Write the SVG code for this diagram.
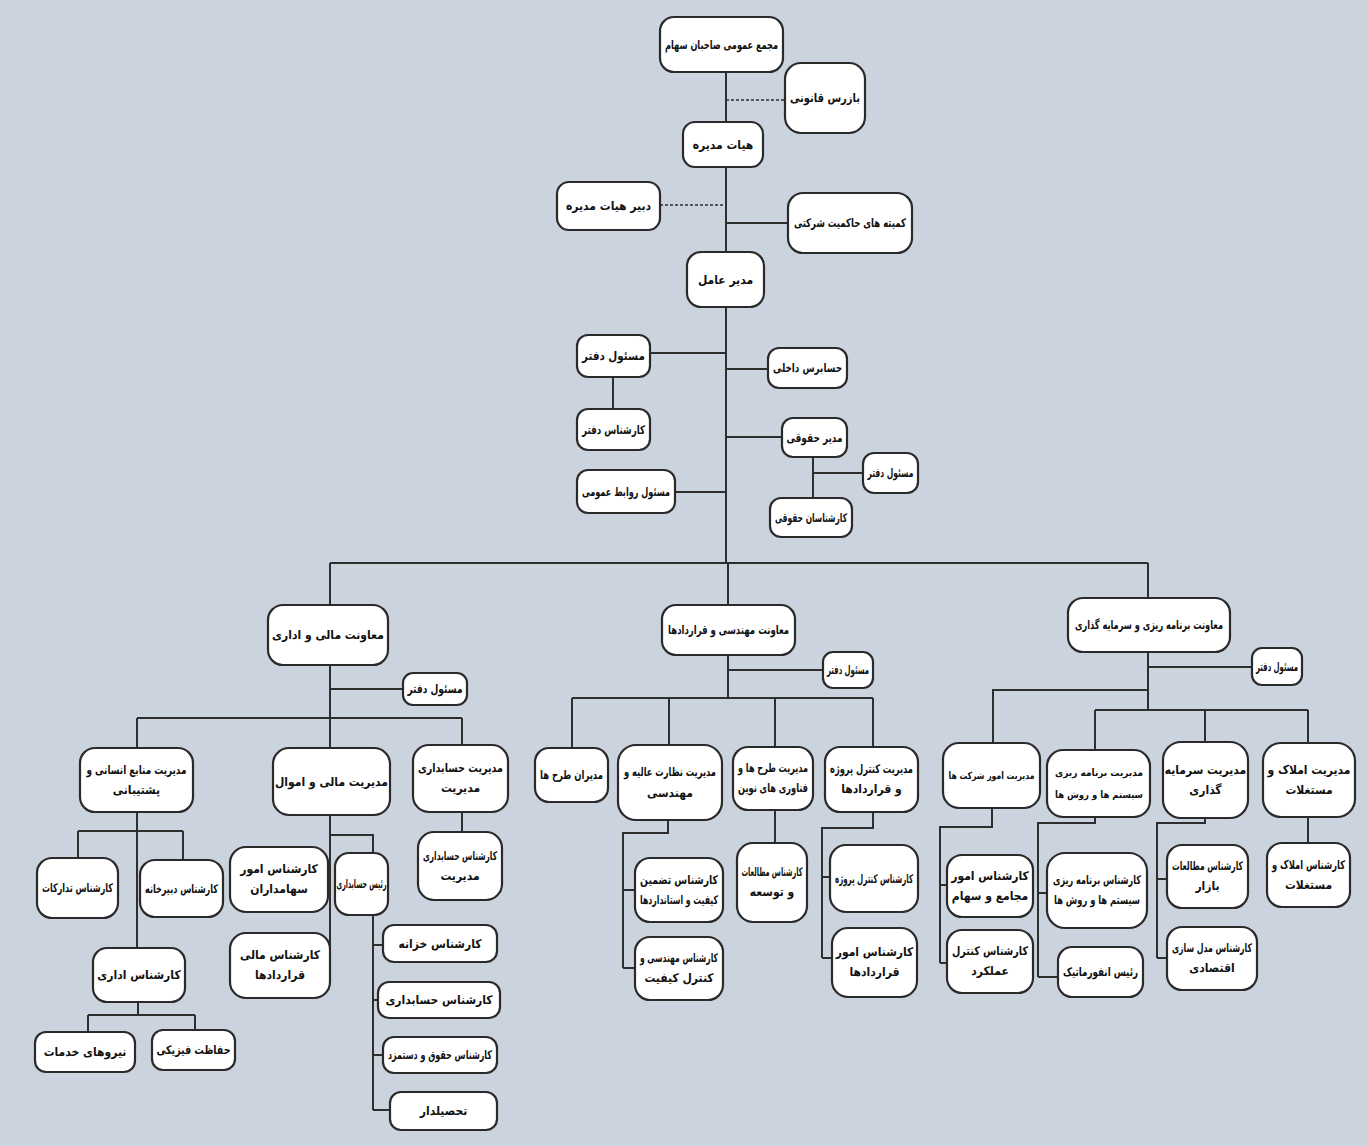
<svg xmlns="http://www.w3.org/2000/svg" width="1367" height="1146" viewBox="0 0 1367 1146">
<style>
.n rect{fill:#fff;stroke:#2a2a2a;stroke-width:2.2}
.n text{font-family:"DejaVu Sans Condensed","DejaVu Sans",sans-serif;font-weight:bold;font-size:12px;fill:#111;text-anchor:middle;dominant-baseline:central}
.n text.s{font-size:10px}
.c path{fill:none;stroke:#2e2e2e;stroke-width:2}
.c .d{stroke-dasharray:3 2;stroke-width:1.6}
</style>
<rect width="1367" height="1146" fill="#cbd3de"/>
<g class="c" id="connectors">
<path d="M726,72V122M726,167V252M726,307V563"/>
<path class="d" d="M726,100H785M660,205H726"/>
<path d="M726,223H788"/>
<path d="M650,353H726M613,377V409M726,369H768M726,437H782M675,492H726M813,457V498M813,473H863"/>
<path d="M330,563H1148M330,563V605M728,563V605M1148,563V598"/>
<path d="M330,665V748M330,689H403M137,718H462M137,718V748M462,718V745"/>
<path d="M137,812V948M78,831H183M78,831V858M183,831V860M138,1002V1015M88,1015H195M88,1015V1032M195,1015V1030"/>
<path d="M330,815V965M328,875H330M330,835H373V853"/>
<path d="M373,915V1110M373,945H383M373,1000H378M373,1055H383M373,1110H390"/>
<path d="M462,812V832"/>
<path d="M728,655V698M728,670H823M572,698H873M572,698V748M669,698V745M775,698V747M873,698V747"/>
<path d="M668,820V833H623V968M623,890H635M623,968H635"/>
<path d="M775,810V843"/>
<path d="M873,812V828H822V958M822,877H830M822,958H832"/>
<path d="M1148,652V710M1148,667H1252M1148,690H993V743M1095,710H1308M1095,710V750M1205,710V742M1308,710V743"/>
<path d="M992,808V827H940V963M940,885H947M940,963H947"/>
<path d="M1095,817V823H1038V977M1038,893H1047M1038,977H1058"/>
<path d="M1205,818V823H1157V958M1157,879H1167M1157,958H1167"/>
<path d="M1308,817V843"/>
</g>
<g class="n" id="n1"><rect x="660" y="17" width="123" height="55" rx="14"/><text x="721.5" y="44.5" textLength="113" lengthAdjust="spacingAndGlyphs">مجمع عمومی صاحبان سهام</text></g>
<g class="n" id="n2"><rect x="785" y="63" width="80" height="70" rx="16"/><text x="825" y="98" textLength="70" lengthAdjust="spacingAndGlyphs">بازرس قانونی</text></g>
<g class="n" id="n3"><rect x="683" y="122" width="80" height="45" rx="12"/><text x="723" y="144.5">هیات مدیره</text></g>
<g class="n" id="n4"><rect x="557" y="182" width="103" height="48" rx="12"/><text x="608.5" y="206">دبیر هیات مدیره</text></g>
<g class="n" id="n5"><rect x="788" y="193" width="124" height="60" rx="15"/><text x="850" y="223" textLength="112" lengthAdjust="spacingAndGlyphs">کمیته های حاکمیت شرکتی</text></g>
<g class="n" id="n6"><rect x="687" y="252" width="77" height="55" rx="14"/><text x="725.5" y="279.5">مدیر عامل</text></g>
<g class="n" id="n7"><rect x="577" y="335" width="73" height="42" rx="11"/><text x="613.5" y="356" textLength="63" lengthAdjust="spacingAndGlyphs">مسئول دفتر</text></g>
<g class="n" id="n8"><rect x="577" y="409" width="73" height="41" rx="11"/><text x="613.5" y="429.5" textLength="63" lengthAdjust="spacingAndGlyphs">کارشناس دفتر</text></g>
<g class="n" id="n9"><rect x="577" y="470" width="98" height="43" rx="11"/><text x="626" y="491.5" textLength="88" lengthAdjust="spacingAndGlyphs">مسئول روابط عمومی</text></g>
<g class="n" id="n10"><rect x="768" y="348" width="79" height="40" rx="11"/><text x="807.5" y="368" textLength="69" lengthAdjust="spacingAndGlyphs">حسابرس داخلی</text></g>
<g class="n" id="n11"><rect x="782" y="418" width="65" height="39" rx="11"/><text x="814.5" y="437.5" textLength="56" lengthAdjust="spacingAndGlyphs">مدیر حقوقی</text></g>
<g class="n" id="n12"><rect x="863" y="453" width="55" height="40" rx="11"/><text x="890.5" y="473" textLength="46" lengthAdjust="spacingAndGlyphs">مسئول دفتر</text></g>
<g class="n" id="n13"><rect x="770" y="498" width="82" height="39" rx="11"/><text x="811" y="517.5" textLength="72" lengthAdjust="spacingAndGlyphs">کارشناسان حقوقی</text></g>
<g class="n" id="n14"><rect x="268" y="605" width="120" height="60" rx="15"/><text x="328" y="635">معاونت مالی و اداری</text></g>
<g class="n" id="n15"><rect x="403" y="673" width="64" height="32" rx="10"/><text x="435" y="689" textLength="55" lengthAdjust="spacingAndGlyphs">مسئول دفتر</text></g>
<g class="n" id="n16"><rect x="662" y="605" width="133" height="50" rx="14"/><text x="728.5" y="630" textLength="121" lengthAdjust="spacingAndGlyphs">معاونت مهندسی و قراردادها</text></g>
<g class="n" id="n17"><rect x="823" y="652" width="50" height="36" rx="10"/><text x="848" y="670" textLength="42" lengthAdjust="spacingAndGlyphs">مسئول دفتر</text></g>
<g class="n" id="n18"><rect x="1068" y="598" width="162" height="54" rx="15"/><text x="1149" y="625" textLength="148" lengthAdjust="spacingAndGlyphs">معاونت برنامه ریزی و سرمایه گذاری</text></g>
<g class="n" id="n19"><rect x="1252" y="648" width="50" height="37" rx="10"/><text x="1277" y="666.5" textLength="42" lengthAdjust="spacingAndGlyphs">مسئول دفتر</text></g>
<g class="n" id="n20"><rect x="80" y="748" width="113" height="64" rx="15"/><text x="136.5" y="770" textLength="100" lengthAdjust="spacingAndGlyphs">مدیریت منابع انسانی و</text><text x="136.5" y="790">پشتیبانی</text></g>
<g class="n" id="n21"><rect x="37" y="858" width="81" height="60" rx="15"/><text x="77.5" y="888" textLength="71" lengthAdjust="spacingAndGlyphs">کارشناس تدارکات</text></g>
<g class="n" id="n22"><rect x="140" y="860" width="83" height="57" rx="15"/><text x="181.5" y="888.5" textLength="73" lengthAdjust="spacingAndGlyphs">کارشناس دبیرخانه</text></g>
<g class="n" id="n23"><rect x="93" y="948" width="92" height="54" rx="14"/><text x="139" y="975">کارشناس اداری</text></g>
<g class="n" id="n24"><rect x="35" y="1032" width="100" height="40" rx="11"/><text x="85" y="1052">نیروهای خدمات</text></g>
<g class="n" id="n25"><rect x="152" y="1030" width="83" height="40" rx="11"/><text x="193.5" y="1050" textLength="74" lengthAdjust="spacingAndGlyphs">حفاظت فیزیکی</text></g>
<g class="n" id="n26"><rect x="273" y="748" width="117" height="67" rx="16"/><text x="331.5" y="781.5">مدیریت مالی و اموال</text></g>
<g class="n" id="n27"><rect x="230" y="847" width="98" height="65" rx="16"/><text x="279" y="869">کارشناس امور</text><text x="279" y="889">سهامداران</text></g>
<g class="n" id="n28"><rect x="335" y="853" width="53" height="62" rx="14"/><text x="361.5" y="884" textLength="50" lengthAdjust="spacingAndGlyphs">رئیس حسابداری</text></g>
<g class="n" id="n29"><rect x="230" y="933" width="100" height="65" rx="16"/><text x="280" y="955">کارشناس مالی</text><text x="280" y="975">قراردادها</text></g>
<g class="n" id="n30"><rect x="383" y="925" width="114" height="37" rx="11"/><text x="440" y="943.5">کارشناس خزانه</text></g>
<g class="n" id="n31"><rect x="378" y="982" width="122" height="36" rx="11"/><text x="439" y="1000">کارشناس حسابداری</text></g>
<g class="n" id="n32"><rect x="383" y="1037" width="114" height="36" rx="11"/><text x="440" y="1055" textLength="104" lengthAdjust="spacingAndGlyphs">کارشناس حقوق و دستمزد</text></g>
<g class="n" id="n33"><rect x="390" y="1092" width="107" height="38" rx="11"/><text x="443.5" y="1111">تحصیلدار</text></g>
<g class="n" id="n34"><rect x="413" y="745" width="95" height="67" rx="16"/><text x="460.5" y="768" textLength="85" lengthAdjust="spacingAndGlyphs">مدیریت حسابداری</text><text x="460.5" y="788">مدیریت</text></g>
<g class="n" id="n35"><rect x="418" y="832" width="84" height="68" rx="16"/><text x="460" y="856" textLength="74" lengthAdjust="spacingAndGlyphs">کارشناس حسابداری</text><text x="460" y="876">مدیریت</text></g>
<g class="n" id="n36"><rect x="535" y="748" width="73" height="54" rx="14"/><text x="571.5" y="775" textLength="63" lengthAdjust="spacingAndGlyphs">مدیران طرح ها</text></g>
<g class="n" id="n37"><rect x="618" y="745" width="104" height="75" rx="18"/><text x="670" y="772" textLength="92" lengthAdjust="spacingAndGlyphs">مدیریت نظارت عالیه و</text><text x="670" y="793">مهندسی</text></g>
<g class="n" id="n38"><rect x="733" y="747" width="80" height="63" rx="15"/><text x="773" y="768" textLength="70" lengthAdjust="spacingAndGlyphs">مدیریت طرح ها و</text><text x="773" y="788" textLength="70" lengthAdjust="spacingAndGlyphs">فناوری های نوین</text></g>
<g class="n" id="n39"><rect x="825" y="747" width="93" height="65" rx="15"/><text x="871.5" y="769" textLength="83" lengthAdjust="spacingAndGlyphs">مدیریت کنترل پروژه</text><text x="871.5" y="789">و قراردادها</text></g>
<g class="n" id="n40"><rect x="635" y="858" width="88" height="64" rx="15"/><text x="679" y="880" textLength="78" lengthAdjust="spacingAndGlyphs">کارشناس تضمین</text><text x="679" y="900" textLength="78" lengthAdjust="spacingAndGlyphs">کیفیت و استانداردها</text></g>
<g class="n" id="n41"><rect x="635" y="937" width="88" height="63" rx="15"/><text x="679" y="958" textLength="78" lengthAdjust="spacingAndGlyphs">کارشناس مهندسی و</text><text x="679" y="978">کنترل کیفیت</text></g>
<g class="n" id="n42"><rect x="737" y="843" width="70" height="79" rx="16"/><text x="772" y="872" textLength="61" lengthAdjust="spacingAndGlyphs">کارشناس مطالعات</text><text x="772" y="892">و توسعه</text></g>
<g class="n" id="n43"><rect x="830" y="845" width="88" height="67" rx="16"/><text x="874" y="878.5" textLength="78" lengthAdjust="spacingAndGlyphs">کارشناس کنترل پروژه</text></g>
<g class="n" id="n44"><rect x="832" y="928" width="85" height="69" rx="16"/><text x="874.5" y="952">کارشناس امور</text><text x="874.5" y="972">قراردادها</text></g>
<g class="n" id="n45"><rect x="943" y="743" width="97" height="65" rx="16"/><text class="s" x="991.5" y="775.5" textLength="86" lengthAdjust="spacingAndGlyphs">مدیریت امور شرکت ها</text></g>
<g class="n" id="n46"><rect x="1047" y="750" width="103" height="67" rx="16"/><text class="s" x="1099" y="772" textLength="88" lengthAdjust="spacingAndGlyphs">مدیریت برنامه ریزی</text><text class="s" x="1099" y="794" textLength="88" lengthAdjust="spacingAndGlyphs">سیستم ها و روش ها</text></g>
<g class="n" id="n47"><rect x="1163" y="742" width="85" height="76" rx="18"/><text x="1205.5" y="770">مدیریت سرمایه</text><text x="1205.5" y="790">گذاری</text></g>
<g class="n" id="n48"><rect x="1263" y="743" width="92" height="74" rx="18"/><text x="1309" y="770">مدیریت املاک و</text><text x="1309" y="790">مستغلات</text></g>
<g class="n" id="n49"><rect x="947" y="855" width="86" height="62" rx="15"/><text x="990" y="876">کارشناس امور</text><text x="990" y="896">مجامع و سهام</text></g>
<g class="n" id="n50"><rect x="947" y="930" width="86" height="63" rx="15"/><text x="990" y="951" textLength="76" lengthAdjust="spacingAndGlyphs">کارشناس کنترل</text><text x="990" y="971">عملکرد</text></g>
<g class="n" id="n51"><rect x="1047" y="853" width="100" height="75" rx="18"/><text x="1097" y="880" textLength="88" lengthAdjust="spacingAndGlyphs">کارشناس برنامه ریزی</text><text x="1097" y="900" textLength="86" lengthAdjust="spacingAndGlyphs">سیستم ها و روش ها</text></g>
<g class="n" id="n52"><rect x="1058" y="947" width="85" height="50" rx="14"/><text x="1100.5" y="972" textLength="75" lengthAdjust="spacingAndGlyphs">رئیس انفورماتیک</text></g>
<g class="n" id="n53"><rect x="1167" y="845" width="81" height="63" rx="15"/><text x="1207.5" y="866" textLength="71" lengthAdjust="spacingAndGlyphs">کارشناس مطالعات</text><text x="1207.5" y="886">بازار</text></g>
<g class="n" id="n54"><rect x="1167" y="927" width="90" height="63" rx="15"/><text x="1212" y="948" textLength="80" lengthAdjust="spacingAndGlyphs">کارشناس مدل سازی</text><text x="1212" y="968">اقتصادی</text></g>
<g class="n" id="n55"><rect x="1267" y="843" width="83" height="64" rx="15"/><text x="1308.5" y="865" textLength="73" lengthAdjust="spacingAndGlyphs">کارشناس املاک و</text><text x="1308.5" y="885">مستغلات</text></g>
</svg>
